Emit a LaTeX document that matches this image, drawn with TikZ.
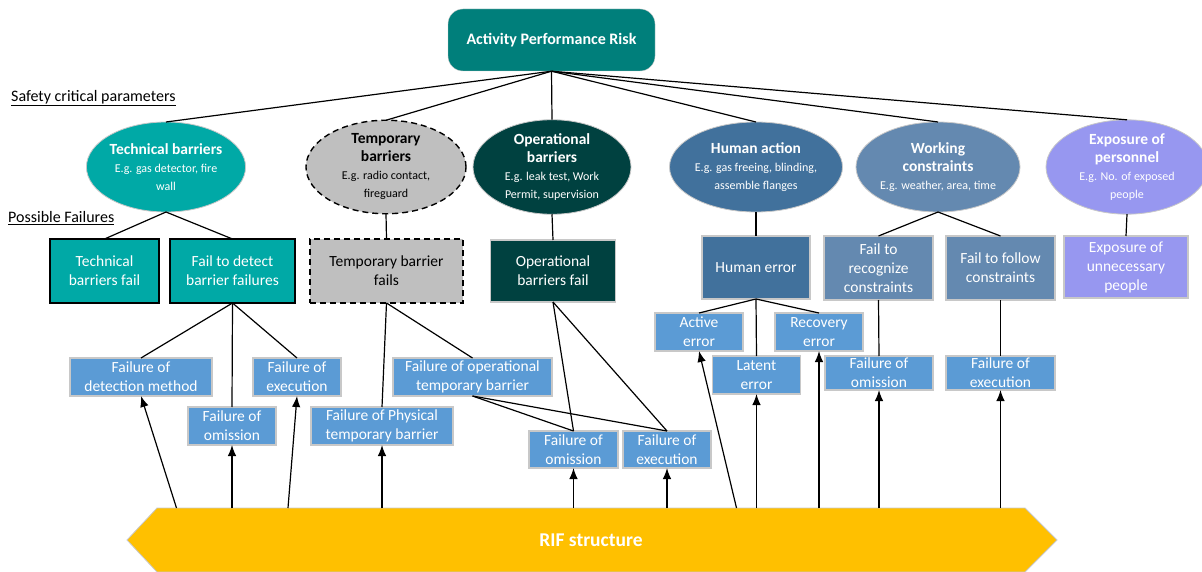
\documentclass[tikz,border=0pt]{standalone}
\usepackage{fontspec}
\setmainfont{Carlito}
\usetikzlibrary{positioning,shapes.geometric,arrows.meta,backgrounds}

\definecolor{riskc}{HTML}{007F7B}
\definecolor{techc}{HTML}{00A9A6}
\definecolor{tempc}{HTML}{BFBFBF}
\definecolor{operc}{HTML}{004140}
\definecolor{humc}{HTML}{41719C}
\definecolor{workc}{HTML}{6489B0}
\definecolor{expoc}{HTML}{9797F0}
\definecolor{failc}{HTML}{5B9BD5}
\definecolor{rifc}{HTML}{FFC000}
\definecolor{edgec}{HTML}{C8C8C8}

\newcommand{\ptitle}{\fontsize{15.5}{18}\selectfont\bfseries}
\newcommand{\peg}{\fontsize{12}{18}\selectfont}

\begin{document}
\begin{tikzpicture}[x=1pt, y=-1pt,
      txt/.style={font=\fontsize{15.5}{19}\selectfont, text=white, align=center,
                  inner sep=0pt, outer sep=0pt},
      param/.style={ellipse, draw=edgec, line width=0.8pt, minimum width=158pt,
                    minimum height=90pt, inner sep=0pt, outer sep=0pt, align=center,
                    text=white, font=\fontsize{12}{18}\selectfont},
      fbox/.style={txt, draw=edgec, line width=1.2pt, minimum height=64pt},
      sbox/.style={txt, fill=failc, draw=edgec, line width=1.4pt,
                   minimum width=88pt, minimum height=38pt},
      tmpline/.style={draw=black, line width=1.4pt, dash pattern=on 6pt off 4pt},
      lbl/.style={anchor=west, inner sep=0pt, font=\fontsize{16}{19}\selectfont},
      con/.style={line width=1.2pt},
      arr/.style={-{Latex[length=11pt,width=8.5pt]}, line width=1.2pt},
    ]
    \useasboundingbox (0,0) rectangle (1202,572);

    % top risk node and the two row labels
    \node[draw=edgec, fill=riskc, rounded corners=15pt, minimum width=207pt,
          minimum height=62pt, text=white, font=\bfseries\fontsize{16}{19}\selectfont]
          (apr) at (551.5,40) {Activity Performance Risk};
    \node[lbl] (scp) at (11,98) {\underline{Safety critical parameters}};
    \node[lbl] (pf) at (8,218) {\underline{Possible Failures}};

    % safety critical parameters
    \node[param, fill=techc] (tech) at (166,167)
      {\ptitle Technical barriers\\\peg E.g. gas detector, fire\\\peg wall};
    \node[param, fill=tempc, tmpline, text=black, minimum width=160pt] (temp) at (386,167)
      {\ptitle Temporary\\\ptitle barriers\\\peg E.g. radio contact,\\\peg fireguard};
    \node[param, fill=operc] (oper) at (552,167)
      {\ptitle Operational\\\ptitle barriers\\\peg E.g. leak test, Work\\\peg Permit, supervision};
    \node[param, fill=humc] (hum) at (756,167)
      {\ptitle Human action\\\peg E.g. gas freeing, blinding,\\\peg assemble flanges};
    \node[param, fill=workc, minimum width=160pt] (work) at (938,167)
      {\ptitle Working\\\ptitle constraints\\\peg E.g. weather, area, time};
    \node[param, fill=expoc, minimum width=162pt] (expo) at (1127,167)
      {\ptitle Exposure of\\\ptitle personnel\\\peg E.g. No. of exposed\\\peg people};

    % possible failures
    \node[fbox, fill=techc, draw=black, minimum width=109pt] (techf) at (104.5,271) {Technical\\barriers fail};
    \node[fbox, fill=techc, draw=black, minimum width=125pt] (detf) at (232.5,271) {Fail to detect\\barrier failures};
    \node[fbox, fill=tempc, tmpline, text=black, minimum width=153pt] (tempf) at (386.5,271) {Temporary barrier\\fails};
    \node[fbox, fill=operc, minimum width=125pt, minimum height=62pt] (operf) at (553,271) {Operational\\barriers fail};
    \node[fbox, fill=humc, minimum width=108pt, minimum height=63pt] (herr) at (756,267.5) {Human error};
    \node[fbox, fill=workc, minimum width=109pt] (recog) at (878.5,268) {Fail to\\recognize\\constraints};
    \node[fbox, fill=workc, minimum width=109pt] (follow) at (1000.5,268) {Fail to follow\\constraints};
    \node[fbox, fill=expoc, minimum width=124pt, minimum height=62pt] (unnec) at (1126,267) {Exposure of\\unnecessary\\people};

    % failure modes
    \node[sbox, minimum width=142pt] (detm) at (141,377) {Failure of\\detection method};
    \node[sbox] (omis1) at (232,426) {Failure of\\omission};
    \node[sbox] (exec1) at (297,377) {Failure of\\execution};
    \node[sbox, minimum width=142pt] (phys) at (382,426) {Failure of Physical\\temporary barrier};
    \node[sbox, minimum width=159pt] (optmp) at (472.5,377) {Failure of operational\\temporary barrier};
    \node[sbox, minimum width=89pt, minimum height=37pt] (omis2) at (573.5,449.5) {Failure of\\omission};
    \node[sbox, minimum height=37pt] (exec2) at (667,449.5) {Failure of\\execution};
    \node[sbox] (act) at (699,332) {Active\\error};
    \node[sbox] (lat) at (756.5,375) {Latent\\error};
    \node[sbox] (recov) at (819,332) {Recovery\\error};
    \node[sbox, minimum width=108pt, minimum height=34pt] (omis3) at (879,373) {Failure of\\omission};
    \node[sbox, minimum width=109pt, minimum height=34pt] (exec3) at (1000.5,373) {Failure of\\execution};

    % RIF structure, hexagon behind the text
    \node[inner sep=0pt, outer sep=0pt, minimum width=868pt, minimum height=64pt,
          text=white, font=\bfseries\fontsize{19.5}{22}\selectfont] (rif) at (591,540) {RIF structure};
    \begin{scope}[on background layer]
      \draw[draw=edgec, fill=rifc, line width=0.8pt] (rif.north west) -- (rif.north east)
        -- ([xshift=32pt]rif.east) -- (rif.south east) -- (rif.south west)
        -- ([xshift=-30pt]rif.west) -- cycle;
    \end{scope}
    \coordinate (rdetm) at (176.5,508);
    \coordinate (rexec) at (288,508);
    \coordinate (ract) at (736.5,508);

    % tree lines
    \foreach \p in {tech,temp,oper,hum,work,expo}
      \draw[con] (apr.south) -- (\p.north);
    \draw[con] (tech.south) -- (techf.north);
    \draw[con] (tech.south) -- (detf.north);
    \draw[con] (temp.south) -- (tempf.north);
    \draw[con] (oper.south) -- (operf.north);
    \draw[con] (hum.south) -- (herr.north);
    \draw[con] (work.south) -- (recog.north);
    \draw[con] (work.south) -- (follow.north);
    \draw[con] (expo.south) -- (unnec.north);
    \foreach \c in {detm,omis1,exec1}
      \draw[con] (detf.south) -- (\c.north);
    \draw[con] (tempf.south) -- (phys.north);
    \draw[con] (tempf.south) -- (optmp.north);
    \foreach \c in {omis2,exec2} {
      \draw[con] (optmp.south) -- (\c.north);
      \draw[con] (operf.south) -- (\c.north);
    }
    \foreach \c in {act,lat,recov}
      \draw[con] (herr.south) -- (\c.north);
    \draw[con] (recog.south) -- (omis3.north);
    \draw[con] (follow.south) -- (exec3.north);

    % arrows up from the RIF structure
    \draw[arr] (rdetm) -- (detm.south);
    \draw[arr] (rexec) -- (exec1.south);
    \draw[arr] (ract) -- (act.south);
    \foreach \c in {omis1,phys,omis2,exec2,lat,recov,omis3,exec3}
      \draw[arr] (\c.south |- rif.north) -- (\c.south);
  \end{tikzpicture}
\end{document}
